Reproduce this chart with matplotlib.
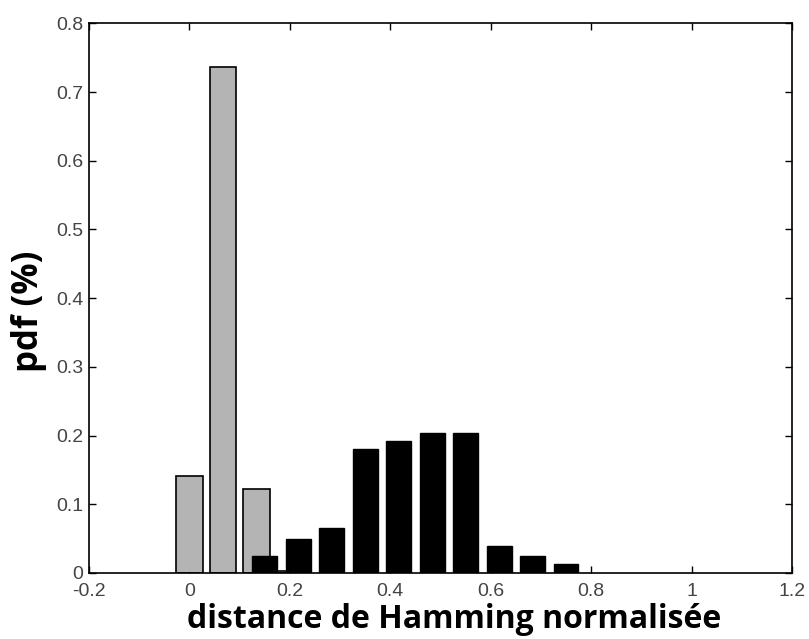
import matplotlib.pyplot as plt
import numpy as np

# histogramme des distances de Hamming normalisees (intra / inter)
gray_x = [0.0, 4/60, 8/60, 12/60]
gray_y = [0.141, 0.737, 0.122, 0.003]

black_x = [9/60, 13/60, 17/60, 21/60, 25/60, 29/60, 33/60, 37/60, 41/60, 45/60]
black_y = [0.025, 0.050, 0.065, 0.180, 0.192, 0.204, 0.204, 0.039, 0.025, 0.013]

xticks = [-0.2, 0, 0.2, 0.4, 0.6, 0.8, 1, 1.2]
xticklabels = ["-0.2", "0", "0.2", "0.4", "0.6", "0.8", "1", "1.2"]
yticks = [0, 0.1, 0.2, 0.3, 0.4, 0.5, 0.6, 0.7, 0.8]
yticklabels = ["0", "0.1", "0.2", "0.3", "0.4", "0.5", "0.6", "0.7", "0.8"]

tick_font = "Liberation Sans"

fig = plt.figure(figsize=(8.09, 6.39), dpi=100)
ax = fig.add_axes([0.110, 0.1033, 0.869, 0.8602])

w = 0.8 / 15
ax.bar(gray_x, gray_y, width=w, color="#b4b4b4", edgecolor="black", linewidth=1.2, zorder=2)
ax.bar(black_x, black_y, width=w * 0.93, color="black", edgecolor="black", linewidth=1.0, zorder=3)

ax.set_xlim(-0.2, 1.2)
ax.set_ylim(0, 0.8)
ax.set_xticks(xticks)
ax.set_xticklabels(xticklabels, fontsize=14, family=tick_font, color="#444444")
ax.set_yticks(yticks)
ax.set_yticklabels(yticklabels, fontsize=14, family=tick_font, color="#444444")
ax.tick_params(direction="in", top=True, right=True, length=5, width=1)
ax.tick_params(axis="x", pad=7)
ax.tick_params(axis="y", pad=4)
for s in ax.spines.values():
    s.set_linewidth(1.2)

ax.set_xlabel("distance de Hamming normalisée", fontsize=23, fontweight="bold",
              family="Open Sans", labelpad=0)
ax.xaxis.set_label_coords(0.52, -0.054, transform=ax.transAxes)
ax.xaxis.label.set_va("top")
ax.set_ylabel("pdf (%)", fontsize=25, fontweight="bold", family="Open Sans")
ax.yaxis.set_label_coords(-0.06, 0.476, transform=ax.transAxes)

plt.savefig("out.png", dpi=100)
